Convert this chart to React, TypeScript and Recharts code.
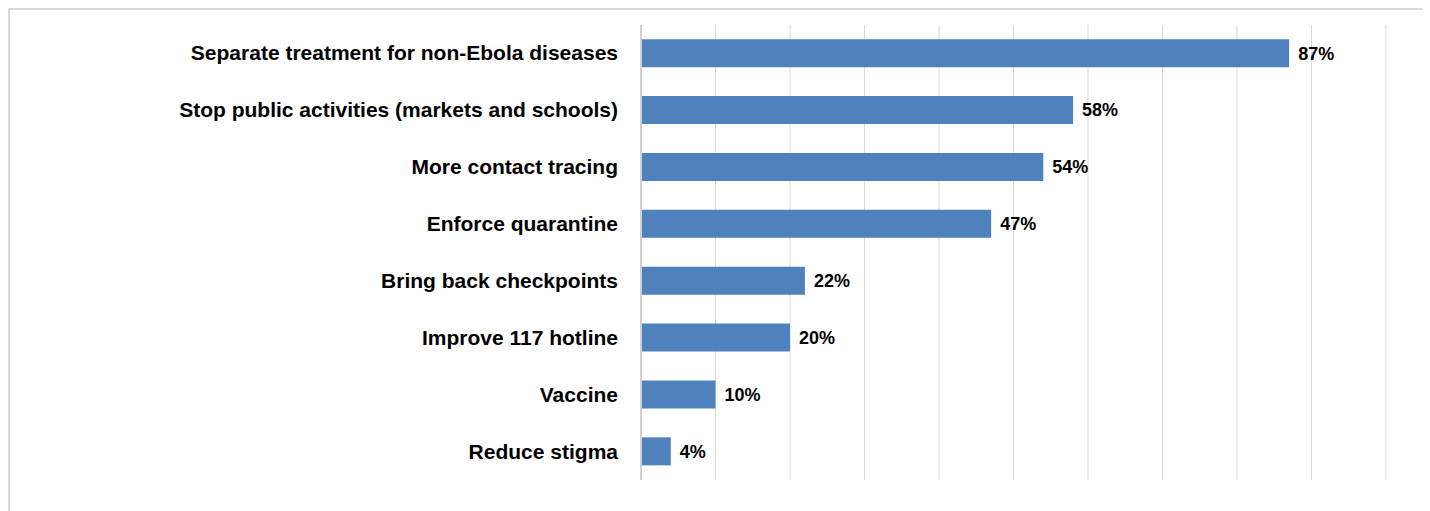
import { Bar, BarChart, CartesianGrid, LabelList, XAxis, YAxis } from "recharts";

const measures = [
  "Separate treatment for non-Ebola diseases",
  "Stop public activities (markets and schools)",
  "More contact tracing",
  "Enforce quarantine",
  "Bring back checkpoints",
  "Improve 117 hotline",
  "Vaccine",
  "Reduce stigma",
];
const shares = [87, 58, 54, 47, 22, 20, 10, 4];
const gridTicks = [0, 10, 20, 30, 40, 50, 60, 70, 80, 90, 100];

const data = measures.map((name, i) => ({ name, value: shares[i] }));

const FONT = "'Liberation Sans', Arial, sans-serif";

function CategoryTick(props: any) {
  const { x, y, payload } = props;
  return (
    <text x={x - 15} y={y} dy={7} textAnchor="end" fontFamily={FONT} fontWeight="bold" fontSize={21} fill="#000">
      {payload.value}
    </text>
  );
}

export default function App() {
  return (
    <div style={{ width: 1440, height: 501, borderLeft: "2px solid #d9d9d9", borderTop: "2px solid #d9d9d9" }}>
      <style>{"html, body { overflow: hidden; }"}</style>
      <BarChart
        width={1420}
        height={501}
        data={data}
        layout="vertical"
        barCategoryGap="25%"
        margin={{ top: 15, right: 44, left: 0, bottom: 31 }}
      >
        <CartesianGrid horizontal={false} stroke="#d9d9d9" />
        <XAxis type="number" domain={[0, 100]} ticks={gridTicks} hide />
        <YAxis
          type="category"
          dataKey="name"
          width={631}
          tick={<CategoryTick />}
          tickLine={false}
          axisLine={{ stroke: "#d0d0d0", strokeWidth: 2 }}
        />
        <Bar dataKey="value" fill="#4f81bd" isAnimationActive={false}>
          <LabelList
            dataKey="value"
            position="right"
            offset={9}
            formatter={(v: any) => `${v}%`}
            style={{ fontFamily: FONT, fontWeight: "bold", fontSize: 18, fill: "#000" }}
          />
        </Bar>
      </BarChart>
    </div>
  );
}
